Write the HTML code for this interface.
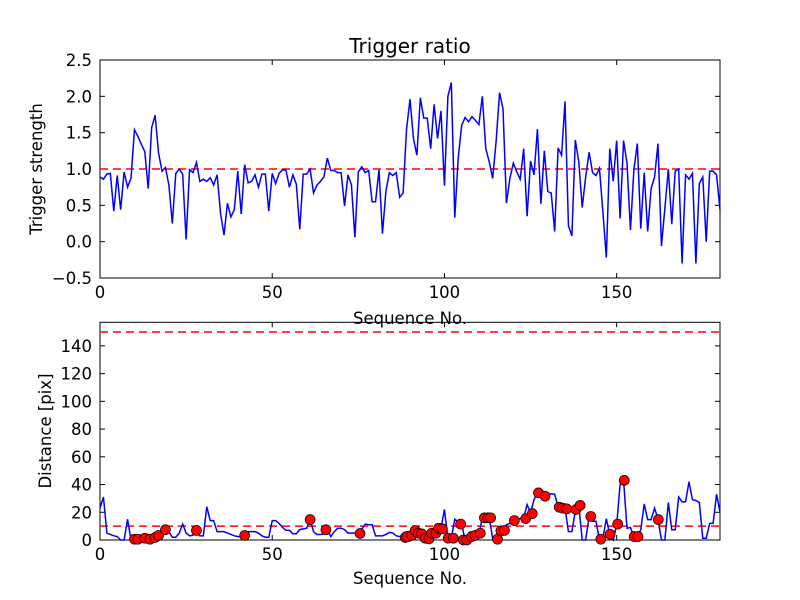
<!DOCTYPE html>
<html><head><meta charset="utf-8"><style>
html,body{margin:0;padding:0;background:#fff;}
svg{display:block;font-family:"DejaVu Sans","Liberation Sans",sans-serif;}
</style></head><body>
<svg id="chart" width="800" height="600" viewBox="0 0 800 600" xmlns="http://www.w3.org/2000/svg">
<rect x="0" y="0" width="800" height="600" fill="#ffffff"/>
<text x="410" y="53" font-size="20" text-anchor="middle">Trigger ratio</text>
<text x="410" y="324" font-size="16.5" text-anchor="middle">Sequence No.</text>
<text x="410" y="584" font-size="16.5" text-anchor="middle">Sequence No.</text>
<text transform="translate(42,169) rotate(-90)" font-size="16.5" text-anchor="middle">Trigger strength</text>
<text transform="translate(51,431) rotate(-90)" font-size="16.5" text-anchor="middle">Distance [pix]</text>
</svg>
<script>
const triggerValues = [0.89,0.86,0.93,0.94,0.42,0.91,0.44,0.96,0.75,0.87,1.54,1.45,1.34,1.24,0.73,1.57,1.74,1.22,0.97,1.02,0.78,0.25,0.94,1.0,0.93,0.03,0.99,0.95,1.09,0.83,0.86,0.83,0.88,0.78,0.92,0.39,0.09,0.53,0.34,0.44,0.97,0.38,1.06,0.81,0.83,0.92,0.75,0.93,0.93,0.42,0.94,0.80,0.94,0.99,0.98,0.75,0.92,0.79,0.17,0.93,0.93,1.0,0.67,0.78,0.83,0.89,1.15,0.98,0.98,0.95,0.95,0.49,0.92,0.78,0.06,0.96,1.03,0.95,0.98,0.55,0.55,0.99,0.11,0.69,0.95,0.91,0.95,0.61,0.67,1.55,1.96,1.42,1.19,1.98,1.70,1.70,1.28,1.89,1.42,1.80,0.77,2.0,2.19,0.33,1.15,1.60,1.71,1.65,1.72,1.67,1.61,2.0,1.28,1.10,0.87,1.38,2.05,1.83,0.53,0.87,1.08,0.96,0.86,1.28,0.35,1.11,0.92,1.55,0.52,1.25,0.69,0.67,0.14,1.29,1.19,1.93,0.22,0.08,1.40,1.10,0.47,0.89,1.23,0.95,0.91,1.01,0.41,-0.22,1.28,0.83,1.39,0.32,1.39,1.08,0.16,0.99,1.35,0.18,0.95,0.14,0.73,0.89,1.35,-0.06,0.46,1.0,0.24,0.97,1.0,-0.30,0.92,0.86,0.94,-0.30,0.80,0.89,0.0,0.97,0.97,0.92,0.44];
const distanceValues = [23,31,5,4,3,2.5,0,0,15,0,1,1,1,1.5,0,1,2,3.5,6,7.5,6,2,2,5,11.5,5,3,3.5,7,3,3,24,14,14,6,6,6,5,4,3,2.5,2,3,6,6,6,5,3,2,2,14,14,12,9,7,7,4.5,4.5,7.5,8,8.5,15,6,4,4,4.5,7.5,2.5,6,8.5,8.5,7.5,5,5,5,5,8,11.5,11,11,3,3,3,4,5.5,5,3,2.5,2,2,3,6,5,4,1.5,1,4,5,8.5,8.5,22,1.3,1.3,15,13,11.5,0,0,2,3,4,16,16,16,1,0,6.6,7,11,12,14,14.7,15.4,16,25.5,19.5,29,34,33,31.6,33,33.3,33,24,23,23,6,6,21,25,0,0,17,13.5,13.5,0,1.3,15.4,3.7,0,11,40,43,8.5,9,2.5,2.5,7.4,26,14.7,14.7,23,15,0,0,27,7.4,7.4,31,27.5,27.5,42,29,28.5,27,1.3,1.3,12,12,33,20];
const markerSeq = [10,11,13,14.5,16,17,19,28,42,61,65.6,75.5,88.6,89.5,89.1,90.5,91.5,92.4,93.4,94.4,95.5,96.3,97.5,98.3,99.4,101.1,102.6,104.7,105.5,106.5,107.9,108.9,110.4,111.6,112.6,113.4,115.4,116.4,117.4,120.3,123.6,125.5,127.3,129.2,133.3,134.3,135.5,138.2,139.4,142.5,145.4,148.1,150.3,152.2,155.1,156.2,162.1];
const markerDist = [0.6,0.6,1.3,0.6,1.8,3.3,7.4,6.9,3.3,14.7,7.4,4.7,1.8,2.5,2.5,3.3,6.8,5,4.4,1.3,0.8,4.9,4.9,8.5,8,1.3,1.3,11.5,0,0,2.5,3.3,4.9,16,16,16,0.6,6.6,6.9,14,15.4,19,34,31.6,23.6,23,22.5,22,25,17,0.6,4.2,11.5,43,2.5,2.5,14.7];
const xTicks = [0,50,100,150];
const topYTicks = [-0.5,0.0,0.5,1.0,1.5,2.0,2.5];
const bottomYTicks = [0,20,40,60,80,100,120,140];
const topRef = [1.0];
const bottomRefs = [10,150];

const NS = "http://www.w3.org/2000/svg";
const svg = document.getElementById('chart');
const L = 100, R = 720, xMin = 0, xMax = 180;
const T1 = 60, B1 = 278, y1Min = -0.5, y1Max = 2.5;
const T2 = 322.3, B2 = 540, y2Min = 0, y2Max = 157;
function xs(v){ return L + (v - xMin) / (xMax - xMin) * (R - L); }
function ys1(v){ return B1 - (v - y1Min) / (y1Max - y1Min) * (B1 - T1); }
function ys2(v){ return B2 - (v - y2Min) / (y2Max - y2Min) * (B2 - T2); }
function mk(tag, attrs){
  const e = document.createElementNS(NS, tag);
  for (const k in attrs) e.setAttribute(k, attrs[k]);
  svg.appendChild(e);
  return e;
}
function fmt1(v){ return v < 0 ? '\u2212' + Math.abs(v).toFixed(1) : v.toFixed(1); }

function drawAxes(T, B, ys, yTicks, fmt, prefix){
  const frame = mk('rect', {x:L, y:T, width:R-L, height:B-T, fill:'none', stroke:'#000', 'stroke-width':1});
  
  
  xTicks.forEach(t => {
    const x = xs(t);
    const a = mk('line', {x1:x, y1:B, x2:x, y2:B-5, stroke:'#000'});
    
    
    const b = mk('line', {x1:x, y1:T, x2:x, y2:T+5, stroke:'#000'});
    
    
    const lab = mk('text', {x:x, y:B+20, 'font-size':16.5, 'text-anchor':'middle'});
    lab.textContent = String(t);
    
    
  });
  yTicks.forEach(t => {
    const y = ys(t);
    const a = mk('line', {x1:L, y1:y, x2:L+5, y2:y, stroke:'#000'});
    
    
    const b = mk('line', {x1:R, y1:y, x2:R-5, y2:y, stroke:'#000'});
    
    
    const lab = mk('text', {x:L-8, y:y+6, 'font-size':16.5, 'text-anchor':'end'});
    lab.textContent = fmt(t);
    
    
  });
}

// top chart
drawAxes(T1, B1, ys1, topYTicks, fmt1, 'top');
topRef.forEach(r => {
  const l = mk('line', {x1:L, x2:R, y1:ys1(r), y2:ys1(r), stroke:'#ff0000', 'stroke-width':1.4, 'stroke-dasharray':'8,5'});
  
  
});
const p1 = mk('polyline', {points: triggerValues.map((v,i)=>xs(i).toFixed(2)+','+ys1(v).toFixed(2)).join(' '), fill:'none', stroke:'#0000ff', 'stroke-width':1.5, 'stroke-linejoin':'miter'});



// bottom chart
drawAxes(T2, B2, ys2, bottomYTicks, v => String(v), 'bottom');
bottomRefs.forEach(r => {
  const l = mk('line', {x1:L, x2:R, y1:ys2(r), y2:ys2(r), stroke:'#ff0000', 'stroke-width':1.4, 'stroke-dasharray':'8,5'});
  
  
});
const p2 = mk('polyline', {points: distanceValues.map((v,i)=>xs(i).toFixed(2)+','+ys2(v).toFixed(2)).join(' '), fill:'none', stroke:'#0000ff', 'stroke-width':1.5});


markerSeq.forEach((s,i) => {
  const c = mk('circle', {cx:xs(s), cy:ys2(markerDist[i]), r:5, fill:'#ff0000', stroke:'#000', 'stroke-width':0.7});
  
  
});
</script>
</body></html>
